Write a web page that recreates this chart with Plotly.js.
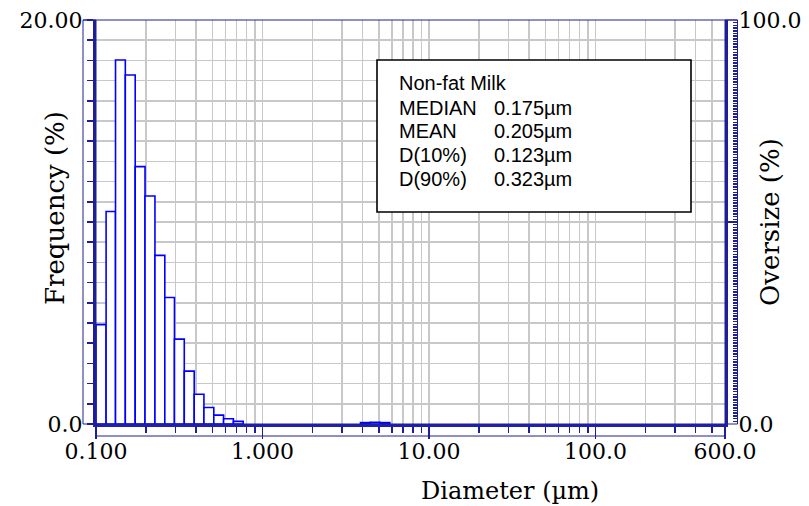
<!DOCTYPE html>
<html>
<head>
<meta charset="utf-8">
<script src="https://cdn.plot.ly/plotly-3.0.1.min.js"></script>
<style>html,body{margin:0;padding:0;background:#fff;}#chart{width:809px;height:506px;}</style>
</head>
<body>
<div id="chart"></div>
<script>
// ---- data ----
// main size-bin edges (µm) and frequency (%) of each bin
const binEdges = [0.100, 0.115, 0.131, 0.150, 0.172, 0.197, 0.226, 0.259, 0.296, 0.339, 0.389, 0.445, 0.510, 0.584, 0.669, 0.766];
const binFreq  = [4.92, 10.52, 18.02, 17.28, 12.74, 11.29, 8.35, 6.26, 4.20, 2.62, 1.47, 0.82, 0.44, 0.26, 0.13];
// small population near 4-6 µm
const coarseEdges = [3.88, 4.44, 5.08, 5.82];
const coarseFreq  = [0.07, 0.09, 0.07];

const xMajorVals = [0.1, 1, 10, 100, 600];
const xMajorText = ['0.100', '1.000', '10.00', '100.0', '600.0'];
const xMinorVals = [0.2,0.3,0.4,0.5,0.6,0.7,0.8,0.9, 2,3,4,5,6,7,8,9, 20,30,40,50,60,70,80,90, 200,300,400,500];
const yLeftLabels = {0: '0.0', 20: '20.00'};
const yRightVals = [0, 50, 100];
const yRightText = ['0.0', '', '100.0'];

const statTitle = 'Non-fat Milk';
const statNames = ['MEDIAN', 'MEAN', 'D(10%)', 'D(90%)'];
const statValues = ['0.175µm', '0.205µm', '0.123µm', '0.323µm'];

// ---- build bars from bin edges ----
function barsFrom(edges, freq) {
  const x = [], w = [];
  for (let i = 0; i < freq.length; i++) {
    x.push((edges[i] + edges[i + 1]) / 2);
    w.push(edges[i + 1] - edges[i]);
  }
  return {x, w};
}
const allX = [], allW = [], allY = [];
[[binEdges, binFreq], [coarseEdges, coarseFreq]].forEach(([e, f]) => {
  const b = barsFrom(e, f);
  allX.push(...b.x); allW.push(...b.w); allY.push(...f);
});

const navy = '#1e1e96';
const gridCol = '#c8c8c8';
const serif = 'DejaVu Serif, serif';
const sans = 'Liberation Sans, Arial, sans-serif';

const leftVals = [], leftText = [];
for (let v = 0; v <= 20; v++) { leftVals.push(v); leftText.push(yLeftLabels[v] || ''); }

const traces = [
  {
    type: 'bar', x: allX, y: allY, width: allW,
    marker: {color: '#ffffff', line: {color: '#0000ff', width: 1.6}},
    xaxis: 'x', yaxis: 'y', showlegend: false, hoverinfo: 'skip'
  },
  {type: 'scatter', mode: 'markers', x: [1], y: [null], xaxis: 'x', yaxis: 'y2', showlegend: false, hoverinfo: 'skip'},
  {type: 'scatter', mode: 'markers', x: [1], y: [null], xaxis: 'x', yaxis: 'y3', showlegend: false, hoverinfo: 'skip'}
];

// pixel geometry of the plot area
const L = 96, T = 20, PLOT_W = 629, H = 404, R = 9;
const PW = 809 - L - R;                 // paper width
const px = v => (v - L) / PW;           // pixel -> paper x
const py = v => (T + H - v) / H;        // pixel -> paper y
const xEnd = PLOT_W / PW;

const annotations = [
  {text: 'Frequency (%)', xref: 'paper', yref: 'paper', x: px(55), y: py(208), textangle: -90,
   xanchor: 'center', yanchor: 'middle', showarrow: false, font: {family: serif, size: 26, color: '#000'}},
  {text: 'Oversize (%)', xref: 'paper', yref: 'paper', x: px(770), y: py(222), textangle: -90,
   xanchor: 'center', yanchor: 'middle', showarrow: false, font: {family: serif, size: 26, color: '#000'}},
  {text: 'Diameter (µm)', xref: 'paper', yref: 'paper', x: px(510), y: py(491),
   xanchor: 'center', yanchor: 'middle', showarrow: false, font: {family: serif, size: 24, color: '#000'}},
  {text: statTitle, xref: 'paper', yref: 'paper', x: px(397), y: py(83), xanchor: 'left', yanchor: 'middle',
   showarrow: false, font: {family: sans, size: 20, color: '#000'}}
];
const rowY = [108, 131, 155, 179];
statNames.forEach((n, i) => {
  annotations.push({text: n, xref: 'paper', yref: 'paper', x: px(397), y: py(rowY[i]), xanchor: 'left', yanchor: 'middle',
    showarrow: false, font: {family: sans, size: 20, color: '#000'}});
  annotations.push({text: statValues[i], xref: 'paper', yref: 'paper', x: px(492), y: py(rowY[i]), xanchor: 'left', yanchor: 'middle',
    showarrow: false, font: {family: sans, size: 20, color: '#000'}});
});

const shapes = [
  {type: 'rect', xref: 'paper', yref: 'paper', x0: px(83), x1: 0, y0: 0, y1: 1, line: {color: navy, width: 1}},
  {type: 'rect', xref: 'paper', yref: 'paper', x0: xEnd, x1: px(737.5), y0: 0, y1: 1, line: {color: navy, width: 1}},
  {type: 'rect', xref: 'paper', yref: 'paper', x0: 0, x1: xEnd, y0: py(436), y1: 0, line: {color: navy, width: 1}},
  {type: 'line', xref: 'paper', yref: 'paper', x0: px(83), x1: px(737.5), y0: 1, y1: 1, line: {color: navy, width: 1}},
  {type: 'rect', xref: 'paper', yref: 'paper', x0: px(377), x1: px(691), y0: py(212), y1: py(60),
   line: {color: '#000', width: 1.6}, fillcolor: '#ffffff', layer: 'above'}
];

const layout = {
  width: 809, height: 506,
  margin: {l: L, r: R, t: T, b: 506 - T - H, pad: 0},
  paper_bgcolor: '#ffffff', plot_bgcolor: '#ffffff',
  showlegend: false,
  bargap: 0,
  xaxis: {
    domain: [0, xEnd],
    type: 'log', range: [Math.log10(0.1), Math.log10(600)],
    tickmode: 'array', tickvals: xMajorVals, ticktext: xMajorText,
    ticks: 'outside', ticklen: 12, tickwidth: 1.5, tickcolor: navy,
    showgrid: true, gridcolor: gridCol, gridwidth: 1.5,
    minor: {tickmode: 'array', tickvals: xMinorVals, ticks: 'outside', ticklen: 6, tickwidth: 1.5, tickcolor: navy,
            showgrid: true, gridcolor: gridCol, gridwidth: 1.5},
    showline: true, linecolor: '#2020b0', linewidth: 3,
    zeroline: false,
    tickfont: {family: serif, size: 22, color: '#000'},
    ticklabelstandoff: -6,
    fixedrange: true
  },
  yaxis: {
    range: [0, 20],
    tickmode: 'array', tickvals: leftVals, ticktext: leftText,
    ticks: 'outside', ticklen: 6, tickwidth: 1.5, tickcolor: navy,
    showgrid: true, gridcolor: gridCol, gridwidth: 1.5,
    showline: true, linecolor: navy, linewidth: 3,
    zeroline: false,
    tickfont: {family: serif, size: 22, color: '#000'},
    ticklabelstandoff: 0,
    fixedrange: true
  },
  // thick right edge of the plot
  yaxis2: {
    overlaying: 'y', side: 'right', anchor: 'x', range: [0, 100],
    showticklabels: false, ticks: '', showgrid: false, zeroline: false,
    showline: true, linecolor: navy, linewidth: 3, fixedrange: true
  },
  // oversize scale: ticks hang inward from the outer frame
  yaxis3: {
    overlaying: 'y', side: 'right', anchor: 'free', position: px(737.5), range: [0, 100],
    tickmode: 'array', tickvals: yRightVals, ticktext: yRightText,
    ticks: 'inside', ticklen: 12, tickwidth: 1.5, tickcolor: navy,
    minor: {dtick: 2/3, ticks: 'inside', ticklen: 5, tickwidth: 1.6, tickcolor: navy, showgrid: false},
    showgrid: false, zeroline: false, showline: false,
    tickfont: {family: serif, size: 22, color: '#000'},
    ticklabelstandoff: 0,
    fixedrange: true
  },
  shapes: shapes,
  annotations: annotations
};

Plotly.newPlot('chart', traces, layout, {staticPlot: true, displayModeBar: false});
</script>
</body>
</html>
